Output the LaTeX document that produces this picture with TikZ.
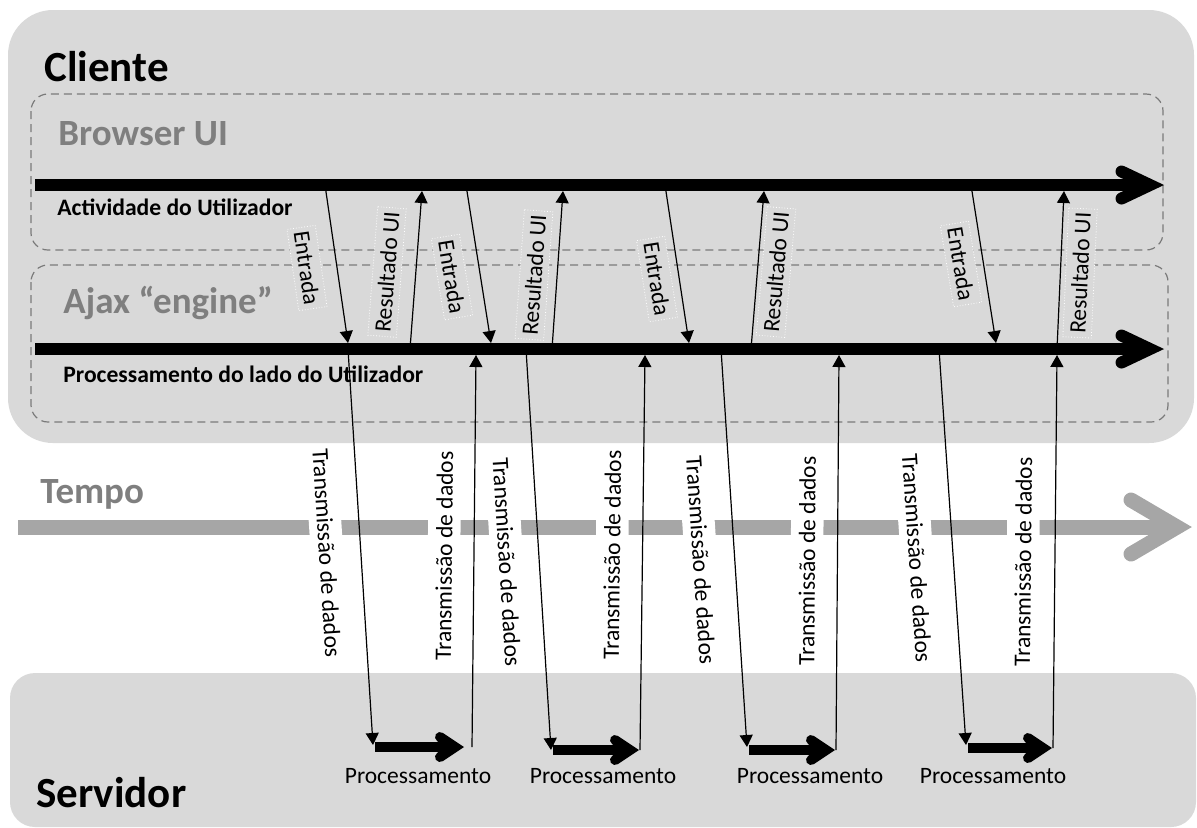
\documentclass[tikz,border=0pt]{standalone}
\usepackage{fontspec}
\setmainfont{Carlito}
\usetikzlibrary{arrows.meta,calc}
\definecolor{bg}{HTML}{D9D9D9}
\definecolor{tgray}{HTML}{A6A6A6}
\definecolor{hgray}{HTML}{7F7F7F}
\definecolor{dgray}{HTML}{7A7A7A}
\begin{document}
\begin{tikzpicture}[x=0.5pt,y=-0.5pt,
  region/.style={fill=bg, draw=none},
  dbox/.style={draw=dgray, line width=0.6pt, dash pattern=on 4pt off 2.5pt, rounded corners=8.5pt},
  fat/.style={line width=6pt, line cap=butt},
  fathead/.style={line width=6pt, line cap=round, line join=miter},
  mid/.style={line width=5pt, line cap=butt},
  midhead/.style={line width=5pt, line cap=round, line join=miter},
  thin/.style={line width=0.6pt, -{Triangle[length=6pt,width=6.5pt]}},
  big/.style={anchor=base west, inner sep=0, font=\bfseries\fontsize{21.5}{24}\selectfont},
  head/.style={anchor=base west, inner sep=0, text=hgray, font=\bfseries\fontsize{18.5}{22}\selectfont},
  sub/.style={anchor=base west, inner sep=0, font=\bfseries\fontsize{11.8}{14}\selectfont},
  lbl/.style={font=\fontsize{11.75}{14}\selectfont},
  uilbl/.style={lbl, fill=bg, draw=white, densely dotted, line width=0.4pt, inner xsep=2pt, inner ysep=3pt},
  trlbl/.style={lbl, fill=white, inner xsep=1pt, inner ysep=4pt},
  proc/.style={anchor=base, inner sep=0, font=\fontsize{11.75}{14}\selectfont}]
\useasboundingbox (0,0) rectangle (1197,827);

% time axis (under everything)
\coordinate (t0) at (18,527);
\coordinate (t1) at (1177,527);
\draw[tgray, line width=7.5pt, line cap=butt] (t0) -- (t1);
\draw[tgray, line width=7.5pt, line cap=round, line join=miter] ($(t1)+(-46,-27)$) -- (t1) -- ($(t1)+(-46,27)$);

% data transmission labels (white background interrupts the time axis)
\node[trlbl, rotate=-86.4] (T1) at (327,553) {Transmissão de dados};
\node[trlbl, rotate=89.4]  (T2) at (444,556) {Transmissão de dados};
\node[trlbl, rotate=-86.5] (T3) at (507,562) {Transmissão de dados};
\node[trlbl, rotate=89.3]  (T4) at (612,555) {Transmissão de dados};
\node[trlbl, rotate=-86.2] (T5) at (701,560) {Transmissão de dados};
\node[trlbl, rotate=89.6]  (T6) at (807,561) {Transmissão de dados};
\node[trlbl, rotate=-86.1] (T7) at (917,558) {Transmissão de dados};
\node[trlbl, rotate=89.4]  (T8) at (1023,562) {Transmissão de dados};

% regions
\draw[region, rounded corners=22.5pt] (8,10) rectangle (1194,443);
\draw[region, rounded corners=12.5pt] (10,673) rectangle (1196,827);
\draw[dbox] (31,94) rectangle (1163,250);
\draw[dbox] (31,265) rectangle (1168,422);

% headings
\node[big] (cliente) at (44,81) {Cliente};
\node[head] (browser) at (58,145) {Browser UI};
\node[sub] (activ) at (57,215) {Actividade do Utilizador};
\node[head] (ajax) at (63,313) {Ajax “engine”};
\node[sub] (procl) at (63,382) {Processamento do lado do Utilizador};
\node[head] (tempo) at (40,503) {Tempo};
\node[big] (servidor) at (36,807) {Servidor};

% UI labels
\node[uilbl, rotate=-81.8] (E1) at (307,268) {Entrada};
\node[uilbl, rotate=-80.7] (E2) at (452,277) {Entrada};
\node[uilbl, rotate=-81.1] (E3) at (657,279) {Entrada};
\node[uilbl, rotate=-80.7] (E4) at (961,264) {Entrada};
\node[uilbl, rotate=85.6] (R1) at (387,272) {Resultado UI};
\node[uilbl, rotate=85.9] (R2) at (534,275) {Resultado UI};
\node[uilbl, rotate=85.1] (R3) at (776,272) {Resultado UI};
\node[uilbl, rotate=87.4] (R4) at (1080,273) {Resultado UI};

% main thick arrows
\coordinate (ua0) at (35,185);
\coordinate (ua1) at (1150,185);
\draw[fat] (ua0) -- (ua1);
\draw[fathead] ($(ua1)+(-28.5,-13.5)$) -- (ua1) -- ($(ua1)+(-28.5,13.5)$);
\coordinate (la0) at (35,349);
\coordinate (la1) at (1150,349);
\draw[fat] (la0) -- (la1);
\draw[fathead] ($(la1)+(-28.5,-13.5)$) -- (la1) -- ($(la1)+(-28.5,13.5)$);

% endpoints of thin arrows
\coordinate (e1a) at (325,185); \coordinate (e1b) at (348,343);
\coordinate (r1a) at (410,349); \coordinate (r1b) at (422,191);
\coordinate (e2a) at (466,185); \coordinate (e2b) at (491,343);
\coordinate (r2a) at (552,349); \coordinate (r2b) at (563,191);
\coordinate (e3a) at (665,185); \coordinate (e3b) at (689,343);
\coordinate (r3a) at (751,349); \coordinate (r3b) at (764,191);
\coordinate (e4a) at (971,185); \coordinate (e4b) at (996,343);
\coordinate (r4a) at (1057,349); \coordinate (r4b) at (1064,191);

\coordinate (d1a) at (348,349); \coordinate (d1b) at (373,745);
\coordinate (u1a) at (472,747); \coordinate (u1b) at (476,355);
\coordinate (d2a) at (526,349); \coordinate (d2b) at (551,750);
\coordinate (u2a) at (640,750); \coordinate (u2b) at (645,355);
\coordinate (d3a) at (721,349); \coordinate (d3b) at (747,747);
\coordinate (u3a) at (836,750); \coordinate (u3b) at (839,355);
\coordinate (d4a) at (939,349); \coordinate (d4b) at (966,745);
\coordinate (u4a) at (1053,748); \coordinate (u4b) at (1057,355);

% server processing arrows
\coordinate (s1a) at (375,747); \coordinate (s1b) at (455,747);
\coordinate (s2a) at (553,750); \coordinate (s2b) at (630,750);
\coordinate (s3a) at (749,750); \coordinate (s3b) at (826,750);
\coordinate (s4a) at (968,748); \coordinate (s4b) at (1043,748);
\foreach \s in {s1,s2,s3,s4}{
  \draw[mid] (\s a) -- (\s b);
  \draw[midhead] ($(\s b)+(-15,-10)$) -- (\s b) -- ($(\s b)+(-15,10)$);
}

% thin arrows
\foreach \a in {e1,r1,e2,r2,e3,r3,e4,r4,d1,u1,d2,u2,d3,u3,d4,u4}{
  \draw[thin] (\a a) -- (\a b);
}

% processing labels
\node[proc] (p1) at (418,783) {Processamento};
\node[proc] (p2) at (603,783) {Processamento};
\node[proc] (p3) at (810,783) {Processamento};
\node[proc] (p4) at (993,783) {Processamento};
\end{tikzpicture}
\end{document}
